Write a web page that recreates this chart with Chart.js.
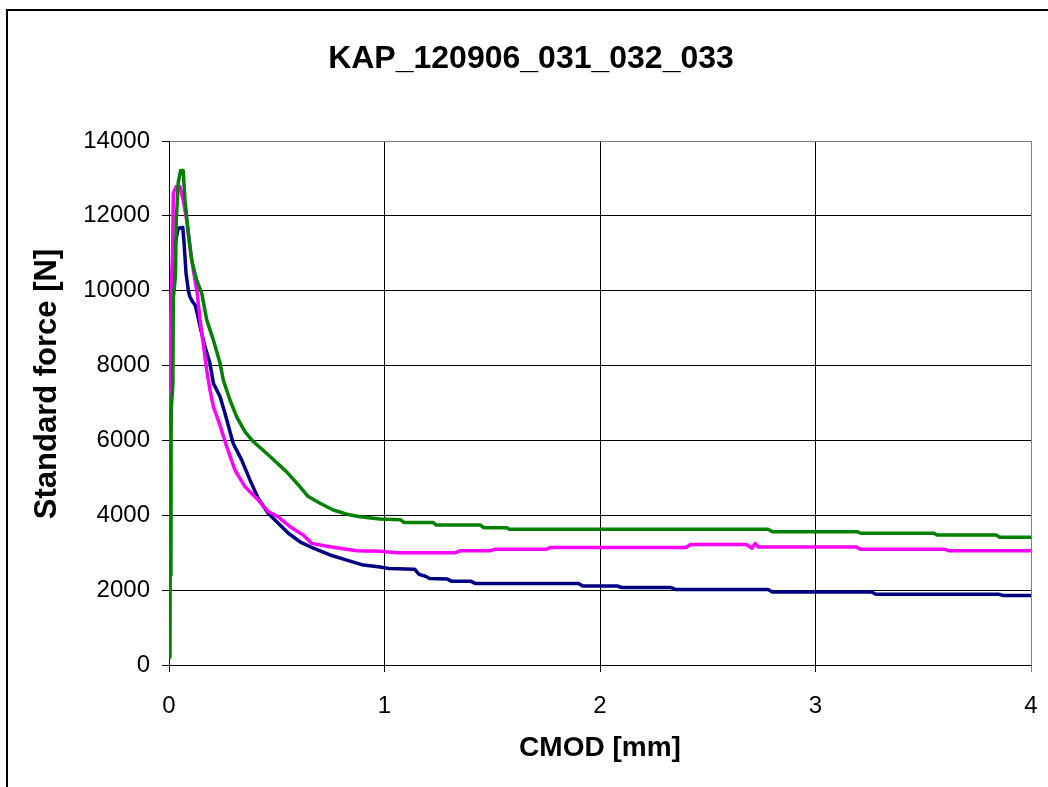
<!DOCTYPE html>
<html>
<head>
<meta charset="utf-8">
<title>KAP_120906_031_032_033</title>
<script src="https://cdn.jsdelivr.net/npm/chart.js@4.4.0/dist/chart.umd.min.js"></script>
<style>
    html, body { margin: 0; padding: 0; background: #fff; }
    #wrap { position: relative; width: 1048px; height: 787px; }
</style>
</head>
<body>
<div id="wrap"><canvas id="forceChart"></canvas></div>
<script>
/* CMOD [mm] vs standard force [N] for specimens 031, 032, 033 */
var cmod031 = [0, 0.002, 0.005, 0.008, 0.015, 0.025, 0.035, 0.043, 0.064, 0.070,
    0.079, 0.090, 0.097, 0.110, 0.121, 0.133, 0.144, 0.167, 0.190, 0.206,
    0.229, 0.237, 0.260, 0.298, 0.337, 0.376, 0.414, 0.461, 0.507, 0.554,
    0.608, 0.670, 0.747, 0.825, 0.902, 0.979, 1.02, 1.14, 1.16, 1.19,
    1.21, 1.29, 1.31, 1.40, 1.42, 1.90, 1.92, 2.08, 2.10, 2.33,
    2.35, 2.78, 2.80, 3.26, 3.28, 3.85, 3.87, 4.0];
var force031 = [250, 2400, 6500, 9000, 10500, 11180, 11450, 11670, 11690, 11270,
    10470, 10000, 9840, 9700, 9620, 9350, 9040, 8500, 8060, 7530,
    7260, 7170, 6720, 5920, 5480, 4940, 4450, 4050, 3790, 3520,
    3290, 3120, 2940, 2800, 2670, 2620, 2580, 2560, 2420, 2370,
    2310, 2300, 2240, 2240, 2180, 2180, 2110, 2110, 2070, 2070,
    2020, 2020, 1950, 1950, 1890, 1890, 1860, 1860];

var cmod032 = [0, 0.002, 0.005, 0.010, 0.017, 0.020, 0.033, 0.051, 0.066, 0.082,
    0.097, 0.113, 0.131, 0.144, 0.159, 0.175, 0.190, 0.206, 0.237, 0.268,
    0.306, 0.353, 0.407, 0.461, 0.507, 0.561, 0.623, 0.662, 0.747, 0.871,
    0.979, 1.06, 1.33, 1.35, 1.49, 1.51, 1.75, 1.77, 2.40, 2.42,
    2.68, 2.705, 2.72, 2.735, 3.19, 3.21, 3.60, 3.62, 4.0];
var force032 = [200, 4000, 8000, 9800, 11100, 12600, 12780, 12780, 12420, 11890,
    11180, 10550, 9930, 9220, 8590, 7880, 7350, 6900, 6400, 5830,
    5210, 4760, 4450, 4100, 3960, 3700, 3470, 3250, 3160, 3050,
    3040, 3000, 3000, 3050, 3050, 3090, 3090, 3140, 3140, 3220,
    3220, 3120, 3250, 3150, 3150, 3090, 3090, 3050, 3050];

var cmod033 = [0, 0.004, 0.005, 0.009, 0.010, 0.018, 0.020, 0.030, 0.034, 0.043,
    0.054, 0.066, 0.074, 0.090, 0.105, 0.128, 0.152, 0.175, 0.206, 0.237,
    0.252, 0.283, 0.314, 0.353, 0.391, 0.469, 0.546, 0.608, 0.646, 0.701,
    0.762, 0.825, 0.886, 0.979, 1.075, 1.09, 1.225, 1.24, 1.445, 1.46,
    1.565, 1.58, 2.78, 2.80, 3.195, 3.21, 3.55, 3.565, 3.84, 3.855, 4.0];
var force033 = [200, 300, 2400, 2600, 6800, 7500, 9800, 10400, 11900, 12900,
    13210, 13210, 12420, 11530, 10820, 10290, 9930, 9220, 8680, 8060,
    7610, 7080, 6630, 6230, 5970, 5570, 5160, 4760, 4500, 4320,
    4140, 4030, 3960, 3900, 3880, 3810, 3810, 3740, 3740, 3670,
    3670, 3625, 3625, 3560, 3560, 3520, 3520, 3470, 3470, 3410, 3410];

var cmodTicks = [0, 1, 2, 3, 4];
var forceTicks = [0, 2000, 4000, 6000, 8000, 10000, 12000, 14000];

var xTitle = 'CMOD [mm]';
var yTitle = 'Standard force [N]';

var FONT = "'Liberation Sans', Arial, sans-serif";

function toPoints(xs, ys) {
    return xs.map(function (x, i) { return { x: x, y: ys[i] }; });
}

function fixedTicks(values) {
    return function (scale) {
        scale.ticks = values.map(function (v) { return { value: v }; });
    };
}

// white page plus the outer chart frame (left and top edges)
var chartFrame = {
    id: 'chartFrame',
    beforeDraw: function (chart) {
        var c = chart.ctx;
        c.save();
        c.fillStyle = '#fff';
        c.fillRect(0, 0, chart.width, chart.height);
        c.strokeStyle = '#000';
        c.lineWidth = 2;
        c.beginPath();
        c.moveTo(7, chart.height + 2);
        c.lineTo(7, 10);
        c.lineTo(chart.width + 2, 10);
        c.stroke();
        c.restore();
    }
};

// axis titles, placed by hand so the vertical one can sit a little high
var axisTitles = {
    id: 'axisTitles',
    afterDraw: function (chart) {
        var c = chart.ctx;
        var area = chart.chartArea;
        c.save();
        c.fillStyle = '#000';
        c.textAlign = 'center';
        c.textBaseline = 'middle';
        c.font = 'bold 28px ' + FONT;
        c.fillText(xTitle, (area.left + area.right) / 2, 748);
        c.translate(47, 384);
        c.rotate(-Math.PI / 2);
        c.font = 'bold 31px ' + FONT;
        c.fillText(yTitle, 0, 0);
        c.restore();
    }
};

var ctx = document.getElementById('forceChart');

new Chart(ctx, {
    type: 'line',
    data: {
        datasets: [
            {
                label: '033',
                data: toPoints(cmod033, force033),
                borderColor: '#008000',
                order: 0
            },
            {
                label: '032',
                data: toPoints(cmod032, force032),
                borderColor: '#FF00FF',
                order: 1
            },
            {
                label: '031',
                data: toPoints(cmod031, force031),
                borderColor: '#000080',
                order: 2
            }
        ]
    },
    options: {
        responsive: true,
        maintainAspectRatio: false,
        animation: false,
        parsing: false,
        datasets: {
            line: {
                borderWidth: 3.5,
                pointRadius: 0,
                tension: 0,
                fill: false,
                borderJoinStyle: 'round'
            }
        },
        layout: { padding: { left: 31, right: 17, top: 0, bottom: 0 } },
        plugins: {
            legend: { display: false },
            tooltip: { enabled: false },
            title: {
                display: true,
                text: 'KAP_120906_031_032_033',
                color: '#000',
                font: { family: FONT, size: 32, weight: 'bold' },
                padding: { top: 40, bottom: 62.6 }
            }
        },
        scales: {
            x: {
                type: 'linear',
                min: 0,
                max: 4,
                afterBuildTicks: fixedTicks(cmodTicks),
                afterFit: function (scale) {
                    scale.height = 122;
                    scale.paddingLeft = 0;
                    scale.paddingRight = 0;
                },
                grid: {
                    color: function (c) { return c.tick && c.tick.value === 4 ? '#808080' : '#000'; },
                    tickColor: function (c) { return c.tick && c.tick.value === 4 ? '#808080' : '#000'; },
                    tickLength: 7,
                    lineWidth: 1
                },
                border: { display: true, color: '#000', width: 1 },
                ticks: {
                    color: '#000',
                    padding: 20,
                    maxRotation: 0,
                    font: { family: FONT, size: 24 },
                    callback: function (v) { return String(v); }
                }
            },
            y: {
                min: 0,
                max: 14000,
                afterBuildTicks: fixedTicks(forceTicks),
                afterFit: function (scale) { scale.width = 138; },
                grid: {
                    color: function (c) { return c.tick && c.tick.value === 14000 ? '#808080' : '#000'; },
                    tickColor: '#000',
                    tickLength: 7,
                    lineWidth: 1
                },
                border: { display: true, color: '#000', width: 1 },
                ticks: {
                    color: '#000',
                    padding: 12,
                    font: { family: FONT, size: 24 },
                    callback: function (v) { return String(v); }
                }
            }
        }
    },
    plugins: [chartFrame, axisTitles]
});
</script>
</body>
</html>
